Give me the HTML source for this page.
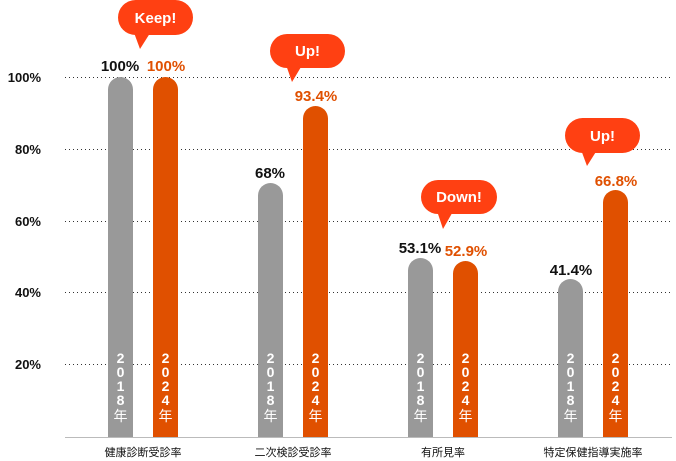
<!DOCTYPE html>
<html><head><meta charset="utf-8"><style>
html,body{margin:0;padding:0;background:#fff;}
svg{display:block;font-family:"Liberation Sans","Noto Sans CJK JP",sans-serif;}
</style></head><body>
<svg width="676" height="461" viewBox="0 0 676 461" xmlns="http://www.w3.org/2000/svg">
<g stroke="#333" stroke-width="1" stroke-dasharray="1,3">
<line x1="65" y1="77.5" x2="672" y2="77.5"/>
<line x1="65" y1="149.5" x2="672" y2="149.5"/>
<line x1="65" y1="221.5" x2="672" y2="221.5"/>
<line x1="65" y1="292.5" x2="672" y2="292.5"/>
<line x1="65" y1="364.5" x2="672" y2="364.5"/>
</g>
<line x1="65" y1="437.5" x2="672" y2="437.5" stroke="#bbb" stroke-width="1"/>
<g font-size="13" font-weight="bold" fill="#111" text-anchor="end">
<text x="41" y="82">100%</text>
<text x="41" y="154">80%</text>
<text x="41" y="226">60%</text>
<text x="41" y="297">40%</text>
<text x="41" y="369">20%</text>
</g>
<g>
<path d="M108 437V89.5a12.5 12.5 0 0 1 25 0V437z" fill="#999"/>
<path d="M153 437V89.5a12.5 12.5 0 0 1 25 0V437z" fill="#e05000"/>
<path d="M258 437V195.5a12.5 12.5 0 0 1 25 0V437z" fill="#999"/>
<path d="M303 437V118.5a12.5 12.5 0 0 1 25 0V437z" fill="#e05000"/>
<path d="M408 437V270.5a12.5 12.5 0 0 1 25 0V437z" fill="#999"/>
<path d="M453 437V273.5a12.5 12.5 0 0 1 25 0V437z" fill="#e05000"/>
<path d="M558 437V291.5a12.5 12.5 0 0 1 25 0V437z" fill="#999"/>
<path d="M603 437V202.5a12.5 12.5 0 0 1 25 0V437z" fill="#e05000"/>
</g>
<g font-size="15" font-weight="bold" text-anchor="middle">
<text x="120" y="71" fill="#111">100%</text>
<text x="166" y="71" fill="#e05000">100%</text>
<text x="270" y="178" fill="#111">68%</text>
<text x="316" y="101" fill="#e05000">93.4%</text>
<text x="420" y="253" fill="#111">53.1%</text>
<text x="466" y="256" fill="#e05000">52.9%</text>
<text x="571" y="275" fill="#111">41.4%</text>
<text x="616" y="186" fill="#e05000">66.8%</text>
</g>
<g font-size="14" font-weight="bold" fill="#fff" text-anchor="middle">
<text x="120.5" y="363">2</text><text x="120.5" y="377">0</text><text x="120.5" y="391">1</text><text x="120.5" y="405">8</text><text x="120.5" y="421" font-weight="normal">年</text>
<text x="165.5" y="363">2</text><text x="165.5" y="377">0</text><text x="165.5" y="391">2</text><text x="165.5" y="405">4</text><text x="165.5" y="421" font-weight="normal">年</text>
<text x="270.5" y="363">2</text><text x="270.5" y="377">0</text><text x="270.5" y="391">1</text><text x="270.5" y="405">8</text><text x="270.5" y="421" font-weight="normal">年</text>
<text x="315.5" y="363">2</text><text x="315.5" y="377">0</text><text x="315.5" y="391">2</text><text x="315.5" y="405">4</text><text x="315.5" y="421" font-weight="normal">年</text>
<text x="420.5" y="363">2</text><text x="420.5" y="377">0</text><text x="420.5" y="391">1</text><text x="420.5" y="405">8</text><text x="420.5" y="421" font-weight="normal">年</text>
<text x="465.5" y="363">2</text><text x="465.5" y="377">0</text><text x="465.5" y="391">2</text><text x="465.5" y="405">4</text><text x="465.5" y="421" font-weight="normal">年</text>
<text x="570.5" y="363">2</text><text x="570.5" y="377">0</text><text x="570.5" y="391">1</text><text x="570.5" y="405">8</text><text x="570.5" y="421" font-weight="normal">年</text>
<text x="615.5" y="363">2</text><text x="615.5" y="377">0</text><text x="615.5" y="391">2</text><text x="615.5" y="405">4</text><text x="615.5" y="421" font-weight="normal">年</text>
</g>
<g font-size="11" fill="#111" text-anchor="middle">
<text x="143" y="456">健康診断受診率</text>
<text x="293" y="456">二次検診受診率</text>
<text x="443" y="456">有所見率</text>
<text x="593" y="456">特定保健指導実施率</text>
</g>
<g fill="#ff4012">
<rect x="118" y="0" width="75" height="35" rx="17.5"/>
<path d="M133 30L140 49L152 30z"/>
<rect x="270" y="34" width="75" height="34" rx="17"/>
<path d="M285 62L292 82L304 62z"/>
<rect x="421" y="180" width="76" height="34" rx="17"/>
<path d="M436 208L443 229L455 208z"/>
<rect x="565" y="118" width="75" height="35" rx="17.5"/>
<path d="M580 147L587 166L599 147z"/>
</g>
<g font-size="15" font-weight="bold" fill="#fff" text-anchor="middle">
<text x="155.5" y="23">Keep!</text>
<text x="307.5" y="56">Up!</text>
<text x="459" y="202">Down!</text>
<text x="602.5" y="141">Up!</text>
</g>
</svg>
</body></html>
